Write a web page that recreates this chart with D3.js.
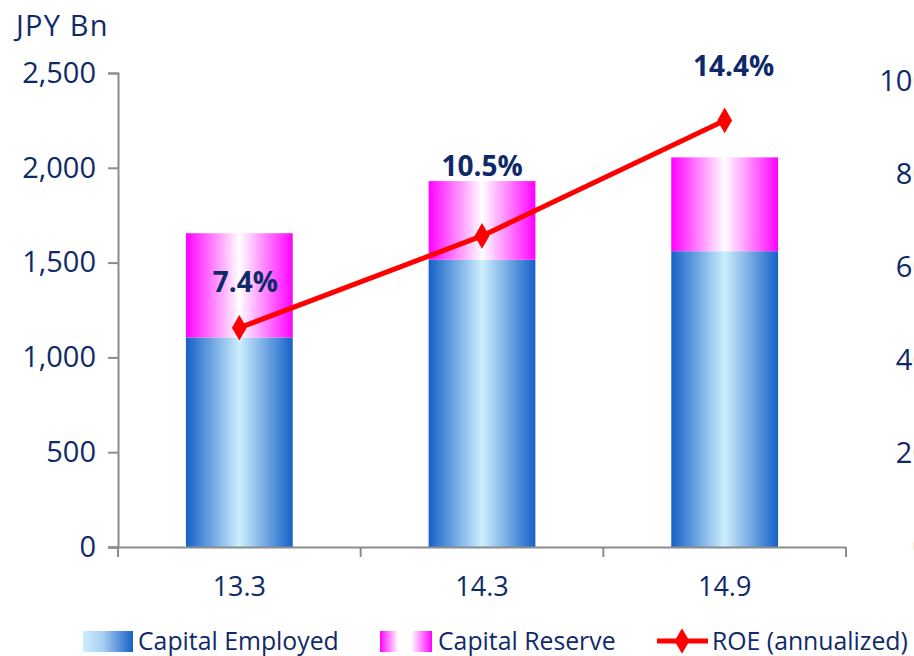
<!DOCTYPE html>
<html><head><meta charset="utf-8">
<script src="https://cdn.jsdelivr.net/npm/d3@7"></script>
<style>body{margin:0;background:#fff}svg{display:block}text{font-family:"Open Sans",sans-serif}</style>
</head><body><svg id="c" width="914" height="656"></svg>
<script>
const categories = ["13.3", "14.3", "14.9"];
const capitalEmployed = [1105, 1515, 1560];
const capitalReserve = [550, 415, 495];
const roe = [7.4, 10.5, 14.4];
const roeLabels = ["7.4%", "10.5%", "14.4%"];
const leftTicks = [0, 500, 1000, 1500, 2000, 2500];
const rightTicks = [0, 20, 40, 60, 80, 100];
const seriesNames = ["Capital Employed", "Capital Reserve", "ROE (annualized)"];

const navy = "#0f2a68";
const svg = d3.select("#c");
const x0 = 118, x1 = 846, yTop = 73, yBot = 547;

const x = d3.scaleBand().domain(categories).range([x0, x1]).paddingInner(0.56).paddingOuter(0.28);
const band = d3.scaleBand().domain(categories).range([x0, x1]);
const y = d3.scaleLinear().domain([0, 2500]).range([yBot, yTop]);
const yR = d3.scaleLinear().domain([0, 100]).range([yBot - 1, yTop + 8]);
const yRoe = d3.scaleLinear().domain([0, 16]).range([yBot, yTop]);

const defs = svg.append("defs");
function grad(id, stops) {
  const g = defs.append("linearGradient").attr("id", id).attr("x1", 0).attr("x2", 1).attr("y1", 0).attr("y2", 0);
  stops.forEach(s => g.append("stop").attr("offset", s[0]).attr("stop-color", s[1]));
}
grad("gEmp", [[0, "#1561c8"], [0.5, "#cdeefd"], [1, "#1561c8"]]);
grad("gRes", [[0, "#ff00ff"], [0.5, "#ffffff"], [1, "#ff00ff"]]);
grad("gEmpL", [[0, "#cdeefd"], [0.4, "#a9cdf0"], [1, "#1561c8"]]);
grad("gResL", [[0, "#ff00ff"], [0.35, "#ffffff"], [0.6, "#ffffff"], [1, "#ff00ff"]]);

// bars
svg.append("g").selectAll("rect").data(categories).join("rect")
  .attr("x", d => x(d)).attr("width", x.bandwidth())
  .attr("y", (d, i) => y(capitalEmployed[i])).attr("height", (d, i) => y(0) - y(capitalEmployed[i]))
  .attr("fill", "url(#gEmp)");
svg.append("g").selectAll("rect").data(categories).join("rect")
  .attr("x", d => x(d)).attr("width", x.bandwidth())
  .attr("y", (d, i) => y(capitalEmployed[i] + capitalReserve[i]))
  .attr("height", (d, i) => y(capitalEmployed[i]) - y(capitalEmployed[i] + capitalReserve[i]))
  .attr("fill", "url(#gRes)");

// axes
const axisColor = "#8c8c8c";
const la = svg.append("g").attr("transform", `translate(${x0},0)`)
  .call(d3.axisLeft(y).tickValues(leftTicks).tickFormat(d3.format(",")).tickSize(10).tickPadding(12));
const ba = svg.append("g").attr("transform", `translate(0,${yBot})`)
  .call(d3.axisBottom(band).tickSize(0).tickPadding(30));
ba.selectAll(".tick text").attr("dy", "0.71em");
svg.append("g").selectAll("line").data([x0, ...categories.slice(1).map(c => band(c)), x1]).join("line")
  .attr("x1", d => d).attr("x2", d => d).attr("y1", yBot).attr("y2", yBot + 10)
  .attr("stroke", axisColor).attr("stroke-width", 2);
ba.select(".domain").attr("d", `M${x0 - 10},0.5H${x1}`);
const ra = svg.append("g").attr("transform", `translate(953,0)`)
  .call(d3.axisLeft(yR).tickValues(rightTicks).tickFormat(d => d + "%").tickSize(0).tickPadding(0));
ra.select(".domain").remove();

[la, ba].forEach(g => {
  g.select(".domain").attr("stroke", axisColor).attr("stroke-width", 2);
  g.selectAll(".tick line").attr("stroke", axisColor).attr("stroke-width", 2);
});
[la, ra].forEach(g => g.selectAll(".tick text").attr("fill", navy).style("font-size", "29px").style("font-family", "'Open Sans',sans-serif"));
ba.selectAll(".tick text").attr("fill", navy).style("font-size", "27px").style("font-family", "'Open Sans',sans-serif");

svg.append("text").attr("x", 16).attr("y", 36).attr("fill", navy).style("font-size", "29px").style("letter-spacing", "1.2px").text("JPY Bn");

// ROE line
const cx = d => band(d) + band.bandwidth() / 2;
svg.append("path").datum(categories)
  .attr("d", d3.line().x(d => cx(d)).y((d, i) => yRoe(roe[i])))
  .attr("fill", "none").attr("stroke", "#ff0000").attr("stroke-width", 5);
svg.append("g").selectAll("path").data(categories).join("path")
  .attr("transform", (d, i) => `translate(${cx(d)},${yRoe(roe[i])})`)
  .attr("d", d3.symbol(d3.symbolDiamond, 190)).attr("fill", "#ff0000");

// data labels
const labelY = [282, 166, 66];
const labelDx = [6, 0, 9];
svg.append("g").selectAll("text").data(categories).join("text")
  .attr("x", (d, i) => cx(d) + labelDx[i]).attr("y", (d, i) => labelY[i]).attr("dy", "0.35em")
  .attr("text-anchor", "middle").attr("fill", navy).style("font-size", "28px").style("font-weight", "bold")
  .text((d, i) => roeLabels[i]);

// legend
const lg = svg.append("g");
const ly = 641;
lg.append("rect").attr("x", 83).attr("y", ly - 10).attr("width", 50).attr("height", 21).attr("fill", "url(#gEmpL)");
lg.append("text").attr("x", 138).attr("y", ly).attr("dy", "0.35em").attr("fill", navy).style("font-size", "24.8px").text(seriesNames[0]);
lg.append("rect").attr("x", 380).attr("y", ly - 10).attr("width", 52).attr("height", 21).attr("fill", "url(#gResL)");
lg.append("text").attr("x", 438).attr("y", ly).attr("dy", "0.35em").attr("fill", navy).style("font-size", "24.8px").text(seriesNames[1]);
lg.append("line").attr("x1", 657).attr("x2", 708).attr("y1", ly).attr("y2", ly).attr("stroke", "#ff0000").attr("stroke-width", 5);
lg.append("path").attr("transform", `translate(682,${ly})`).attr("d", d3.symbol(d3.symbolDiamond, 190)).attr("fill", "#ff0000");
lg.append("text").attr("x", 712).attr("y", ly).attr("dy", "0.35em").attr("fill", navy).style("font-size", "24.8px").text(seriesNames[2]);
</script></body></html>
